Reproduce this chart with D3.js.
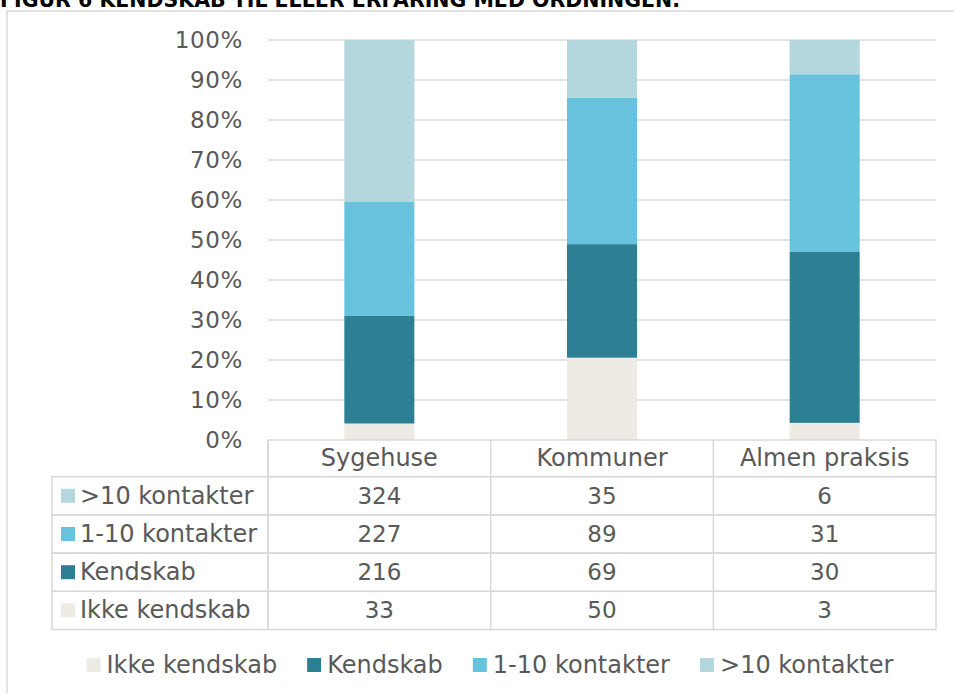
<!DOCTYPE html>
<meta charset="utf-8">
<script src="https://d3js.org/d3.v7.min.js"></script>
<html>
<head>
<style>
  body { margin: 0; background: #fff; }
  svg text { font-family: "DejaVu Sans", Verdana, sans-serif; fill: #595959; }
</style>
</head>
<body>
<div id="chart"></div>
<script>
// data
var title = "FIGUR 6 KENDSKAB TIL ELLER ERFARING MED ORDNINGEN.";
var categories = ["Sygehuse", "Kommuner", "Almen praksis"];
var seriesNames = ["Ikke kendskab", "Kendskab", "1-10 kontakter", ">10 kontakter"];
var ikkeKendskab = [33, 50, 3];
var kendskab = [216, 69, 30];
var kontakter1til10 = [227, 89, 31];
var kontakterOver10 = [324, 35, 6];
var colors = ["#eeebe5", "#2d7f93", "#67c2de", "#b4d7de"];
var yTicks = [0, 0.1, 0.2, 0.3, 0.4, 0.5, 0.6, 0.7, 0.8, 0.9, 1];

var seriesValues = [ikkeKendskab, kendskab, kontakter1til10, kontakterOver10];

var W = 954, H = 693;
var margin = {top: 40, left: 268, right: 18};
var plotH = 400;
var grey = "#d9d9d9";
var fs = 24;    // labels
var fsNum = 23; // numbers

var svg = d3.select("#chart").append("svg")
    .attr("width", W)
    .attr("height", H);

// outer frame (runs past the picture on the right and bottom)
svg.append("rect")
    .attr("x", 7).attr("y", 11)
    .attr("width", 1000).attr("height", 800)
    .attr("fill", "none").attr("stroke", grey).attr("stroke-width", 1.5);

svg.append("text")
    .attr("x", 0).attr("y", 7)
    .style("font-weight", "bold")
    .style("font-size", "20.5px")
    .style("fill", "#000")
    .text(title);

var x = d3.scaleBand()
    .domain(categories)
    .range([margin.left, W - margin.right]);

var y = d3.scaleLinear()
    .domain([0, 1])
    .range([margin.top + plotH, margin.top]);

// gridlines + y labels
svg.append("g").selectAll("line")
  .data(yTicks.slice(1))
  .enter().append("line")
    .attr("x1", x.range()[0]).attr("x2", x.range()[1])
    .attr("y1", function(d) { return y(d); })
    .attr("y2", function(d) { return y(d); })
    .attr("stroke", grey).attr("stroke-width", 1.5);

svg.append("g").selectAll("text")
  .data(yTicks)
  .enter().append("text")
    .attr("x", 243)
    .attr("y", function(d) { return y(d); })
    .attr("text-anchor", "end")
    .attr("dominant-baseline", "central")
    .style("font-size", fsNum + "px")
    .style("letter-spacing", "0.6px")
    .text(d3.format(".0%"));

// stack as percent of column total
var table = categories.map(function(c, i) {
  var row = {cat: c};
  seriesNames.forEach(function(s, j) { row[s] = seriesValues[j][i]; });
  return row;
});
var stack = d3.stack().keys(seriesNames).offset(d3.stackOffsetExpand);
var layers = stack(table);

var barW = 70;
svg.append("g").selectAll("g")
  .data(layers)
  .enter().append("g")
    .attr("fill", function(d, i) { return colors[i]; })
  .selectAll("rect")
  .data(function(d) { return d; })
  .enter().append("rect")
    .attr("x", function(d) { return x(d.data.cat) + x.bandwidth() / 2 - barW / 2; })
    .attr("width", barW)
    .attr("y", function(d) { return y(d[1]); })
    .attr("height", function(d) { return y(d[0]) - y(d[1]); });

// data table under the plot
var tableTop = y(0);
var headH = 36.7, rowH = 38.2;
var tableLeft = 52;
var tg = svg.append("g");

// header row
tg.append("rect")
    .attr("x", x.range()[0]).attr("y", tableTop)
    .attr("width", x.range()[1] - x.range()[0]).attr("height", headH)
    .attr("fill", "none").attr("stroke", grey).attr("stroke-width", 1.5);
categories.forEach(function(c) {
  tg.append("line")
      .attr("x1", x(c)).attr("x2", x(c))
      .attr("y1", tableTop).attr("y2", tableTop + headH + rowH * 4)
      .attr("stroke", grey).attr("stroke-width", 1.5);
  tg.append("text")
      .attr("x", x(c) + x.bandwidth() / 2)
      .attr("y", tableTop + headH / 2)
      .attr("text-anchor", "middle")
      .attr("dominant-baseline", "central")
      .style("font-size", fs + "px")
      .text(c);
});

// rows in reverse series order (top row = >10 kontakter)
var rowOrder = d3.range(seriesNames.length).reverse();
rowOrder.forEach(function(j, r) {
  var ry = tableTop + headH + r * rowH;
  tg.append("rect")
      .attr("x", tableLeft).attr("y", ry)
      .attr("width", x.range()[1] - tableLeft).attr("height", rowH)
      .attr("fill", "none").attr("stroke", grey).attr("stroke-width", 1.5);
  tg.append("rect")
      .attr("x", 61).attr("y", ry + rowH / 2 - 7)
      .attr("width", 14).attr("height", 14)
      .attr("fill", colors[j]);
  tg.append("text")
      .attr("x", 80).attr("y", ry + rowH / 2)
      .attr("dominant-baseline", "central")
      .style("font-size", fs + "px")
      .text(seriesNames[j]);
  categories.forEach(function(c, i) {
    tg.append("text")
        .attr("x", x(c) + x.bandwidth() / 2)
        .attr("y", ry + rowH / 2)
        .attr("text-anchor", "middle")
        .attr("dominant-baseline", "central")
        .style("font-size", fsNum + "px")
        .text(seriesValues[j][i]);
  });
});
tg.append("line")
    .attr("x1", x.range()[0]).attr("x2", x.range()[0])
    .attr("y1", tableTop).attr("y2", tableTop + headH + rowH * 4)
    .attr("stroke", grey).attr("stroke-width", 1.5);

// legend, centred
var legY = 665;
var leg = svg.append("g");
var items = leg.selectAll("g")
  .data(seriesNames)
  .enter().append("g");
items.append("rect")
    .attr("width", 14).attr("height", 14)
    .attr("y", legY - 7)
    .attr("fill", function(d, i) { return colors[i]; });
items.append("text")
    .attr("x", 20).attr("y", legY)
    .attr("dominant-baseline", "central")
    .style("font-size", fs + "px")
    .text(function(d) { return d; });
var cx = 0;
items.each(function() {
  var w = this.getBBox().width;
  d3.select(this).attr("transform", "translate(" + cx + ",0)");
  cx += w + 30;
});
var total = cx - 30;
leg.attr("transform", "translate(" + (490 - total / 2) + ",0)");
</script>
</body>
</html>
